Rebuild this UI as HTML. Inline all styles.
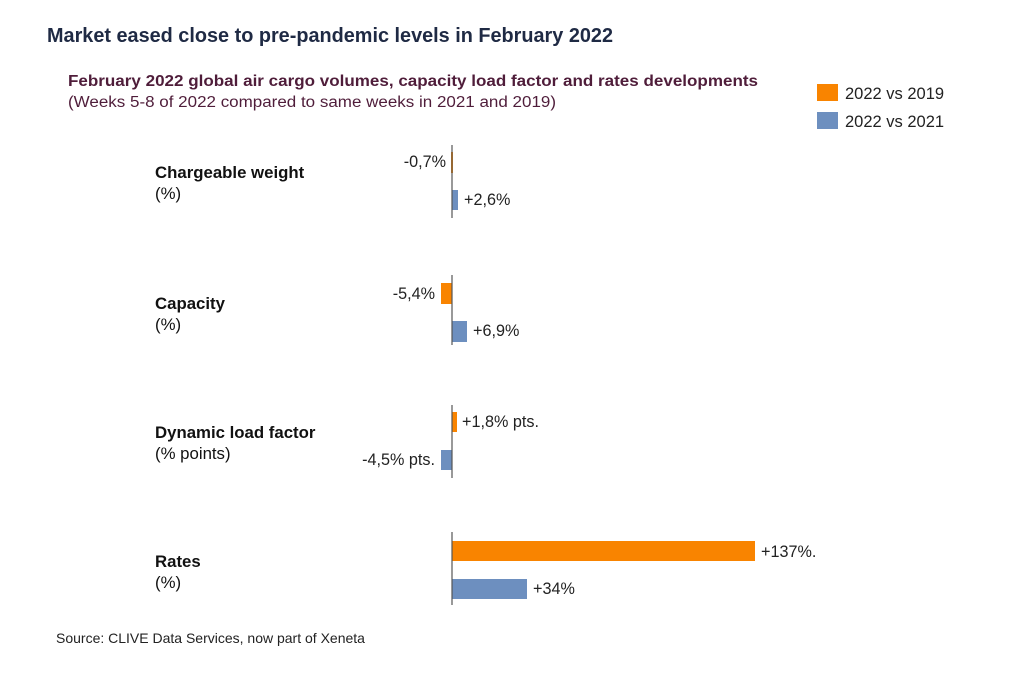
<!DOCTYPE html>
<html><head><meta charset="utf-8"><style>
html,body{margin:0;padding:0;background:#fff;}
svg{display:block;font-family:"Liberation Sans",Arial,sans-serif;}
</style></head><body>
<svg width="1024" height="682" viewBox="0 0 1024 682" xmlns="http://www.w3.org/2000/svg">
<rect width="1024" height="682" fill="#fff"/>
<text x="47" y="42" font-size="20" font-weight="bold" fill="#1f2a44" textLength="566" lengthAdjust="spacingAndGlyphs">Market eased close to pre-pandemic levels in February 2022</text>
<text x="68" y="86" font-size="15.5" font-weight="bold" fill="#4f1d3a" textLength="690" lengthAdjust="spacingAndGlyphs">February 2022 global air cargo volumes, capacity load factor and rates developments</text>
<text x="68" y="107" font-size="15.5" fill="#4f1d3a" textLength="488" lengthAdjust="spacingAndGlyphs">(Weeks 5-8 of 2022 compared to same weeks in 2021 and 2019)</text>
<rect x="817" y="84" width="21" height="17" fill="#f98400"/>
<text x="845" y="99" font-size="16.5" fill="#222">2022 vs 2019</text>
<rect x="817" y="112" width="21" height="17" fill="#6d8fbf"/>
<text x="845" y="127" font-size="16.5" fill="#222">2022 vs 2021</text>
<g font-size="16.8" fill="#111">
<text x="155" y="178" font-weight="bold">Chargeable weight</text><text x="155" y="199">(%)</text>
<text x="155" y="309" font-weight="bold">Capacity</text><text x="155" y="330">(%)</text>
<text x="155" y="438" font-weight="bold">Dynamic load factor</text><text x="155" y="459">(% points)</text>
<text x="155" y="567" font-weight="bold">Rates</text><text x="155" y="588">(%)</text>
</g>
<g fill="#f98400">
<rect x="451" y="152" width="2" height="21"/>
<rect x="441" y="283" width="11" height="21"/>
<rect x="452" y="412" width="5" height="20"/>
<rect x="452" y="541" width="303" height="20"/>
</g>
<g fill="#6d8fbf">
<rect x="452" y="190" width="6" height="20"/>
<rect x="452" y="321" width="15" height="21"/>
<rect x="441" y="450" width="11" height="20"/>
<rect x="452" y="579" width="75" height="20"/>
</g>
<g stroke="#555" stroke-width="1.2">
<line x1="452" y1="145" x2="452" y2="218"/>
<line x1="452" y1="275" x2="452" y2="345"/>
<line x1="452" y1="405" x2="452" y2="478"/>
<line x1="452" y1="532" x2="452" y2="605"/>
</g>
<g font-size="16.2" fill="#222">
<text x="446" y="167" text-anchor="end">-0,7%</text>
<text x="464" y="205">+2,6%</text>
<text x="435" y="299" text-anchor="end">-5,4%</text>
<text x="473" y="336">+6,9%</text>
<text x="462" y="427">+1,8% pts.</text>
<text x="435" y="465" text-anchor="end">-4,5% pts.</text>
<text x="761" y="557">+137%.</text>
<text x="533" y="594">+34%</text>
</g>
<text x="56" y="643" font-size="14" fill="#222">Source: CLIVE Data Services, now part of Xeneta</text>
</svg>
</body></html>
